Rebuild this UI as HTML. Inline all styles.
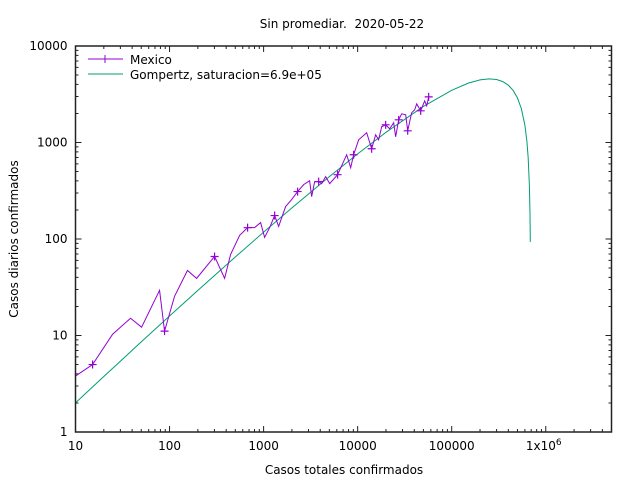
<!DOCTYPE html>
<html><head><meta charset="utf-8"><style>
body{margin:0;background:#fff}
svg{display:block;font-family:"DejaVu Sans","Liberation Sans",sans-serif}
</style></head><body>
<svg id="chart" width="640" height="480" viewBox="0 0 640 480" xmlns="http://www.w3.org/2000/svg">
<text x="342" y="28" font-size="12" text-anchor="middle">Sin promediar.&#160; 2020-05-22</text>
<text x="344" y="474" font-size="12" text-anchor="middle">Casos totales confirmados</text>
<text x="18" y="239" font-size="12" text-anchor="middle" transform="rotate(-90 18 239)">Casos diarios confirmados</text>
<g id="ticks"></g>
<g id="series"></g>
<rect x="75.5" y="46" width="536" height="386" fill="none" stroke="#222" stroke-width="1.5"/>
<g>
<g>
<line x1="88" y1="59" x2="123" y2="59" stroke="#9400d3" stroke-width="1"/>
<path d="M101 59h8M105 55v8" stroke="#9400d3" stroke-width="1"/>
<text x="130" y="64" font-size="12">Mexico</text></g>
<g>
<line x1="88" y1="74" x2="123" y2="74" stroke="#009e73" stroke-width="1"/>
<text x="130" y="79" font-size="12">Gompertz, saturacion=6.9e+05</text></g>
</g>
</svg>
<script>
const mexicoTotals=[10,15.2,24.8,38.5,50.4,78.3,88.5,113,155,194,301,385,446,556,676,802,929,1025,1159,1310,1445,1715,1987,2300,2666,3085,3241,3490,3850,4140,4570,5040,6120,7640,8430,9060,10250,12470,14090,15540,16710,18000,19850,21900,24150,25350,27300,29400,32400,34050,37500,40400,42450,46800,51600,54200,56900];
const mexicoDaily=[3.8,5.0,10.3,15.1,12.2,29.4,11.1,25.5,47.2,39.1,65.9,39.1,69.2,109,131,131,148,104,131,175,135,217,256,310,366,402,275,393,393,375,443,375,464,747,548,747,1067,1262,861,1203,1067,1456,1525,1387,1600,1146,1718,1983,1937,1322,2030,2183,2516,2129,2702,2399,2970];
const mexicoMarkerIdx=[1,6,10,14,19,23,28,32,35,38,42,46,49,53,56];
const gompertzK=6.9e5;
const gompertzR=0.018;
const fitTotals=[10,20,50,100,200,500,1000,2000,5000,1e4,2e4,5e4,1e5,1.5e5,2e5,2.5e5,3e5,3.5e5,4e5,4.5e5,5e5,5.5e5,6e5,6.3e5,6.5e5,6.7e5,6.8e5,6.848e5];
const xTickVals=[10,100,1000,10000,100000,1e6];
const xTickLabels=["10","100","1000","10000","100000","1x10^6"];
const yTickVals=[1,10,100,1000,10000];
const yTickLabels=["1","10","100","1000","10000"];

const L=75.5,R=611.5,T=46,B=432;
const lxMin=1,lxMax=Math.log10(5e6),lyMin=0,lyMax=4;
function sx(v){return L+(Math.log10(v)-lxMin)/(lxMax-lxMin)*(R-L);}
function sy(v){return B-(Math.log10(v)-lyMin)/(lyMax-lyMin)*(B-T);}
const NS="http://www.w3.org/2000/svg";
function mk(tag,attrs,parent){const e=document.createElementNS(NS,tag);for(const k in attrs)e.setAttribute(k,attrs[k]);parent.appendChild(e);return e;}
const tk=document.getElementById('ticks');
for(let d=1;d<7;d++){for(let m=1;m<10;m++){const v=m*Math.pow(10,d);if(Math.log10(v)>lxMax+1e-9)break;const x=sx(v);const len=m===1?6:3;
const t=mk('path',{d:`M${x} ${B}v${-len}M${x} ${T}v${len}`,stroke:'#222','stroke-width':1},tk);

}}
xTickVals.forEach((v,i)=>{const lab=xTickLabels[i];let t;
if(lab.indexOf('^')>=0){const p=lab.split('^');t=mk('text',{x:sx(v)-2,y:B+18,'font-size':12,'text-anchor':'middle'},tk);t.textContent=p[0];const s=mk('tspan',{dy:-5,'font-size':9},t);s.textContent=p[1];}
else{t=mk('text',{x:sx(v),y:B+18,'font-size':12,'text-anchor':'middle'},tk);t.textContent=lab;}

});
for(let d=0;d<5;d++){for(let m=1;m<10;m++){const v=m*Math.pow(10,d);if(Math.log10(v)>lyMax+1e-9)break;const y=sy(v);const len=m===1?6:3;
const t=mk('path',{d:`M${L} ${y}h${len}M${R} ${y}h${-len}`,stroke:'#222','stroke-width':1},tk);

}}
yTickVals.forEach((v,i)=>{const t=mk('text',{x:L-8,y:sy(v)+4,'font-size':12,'text-anchor':'end'},tk);t.textContent=yTickLabels[i];

});
const sg=document.getElementById('series');
const fitDaily=fitTotals.map(n=>gompertzR*n*Math.log(gompertzK/n));
const fit=mk('polyline',{points:fitTotals.map((n,i)=>sx(n)+','+sy(fitDaily[i])).join(' '),fill:'none',stroke:'#009e73','stroke-width':1},sg);


const mx=mk('polyline',{points:mexicoTotals.map((n,i)=>sx(n)+','+sy(mexicoDaily[i])).join(' '),fill:'none',stroke:'#9400d3','stroke-width':1},sg);


mexicoMarkerIdx.forEach(i=>{const x=sx(mexicoTotals[i]),y=sy(mexicoDaily[i]);
const p=mk('path',{d:`M${x-4} ${y}h8M${x} ${y-4}v8`,stroke:'#9400d3','stroke-width':1.2},sg);

});
</script>
</body></html>
